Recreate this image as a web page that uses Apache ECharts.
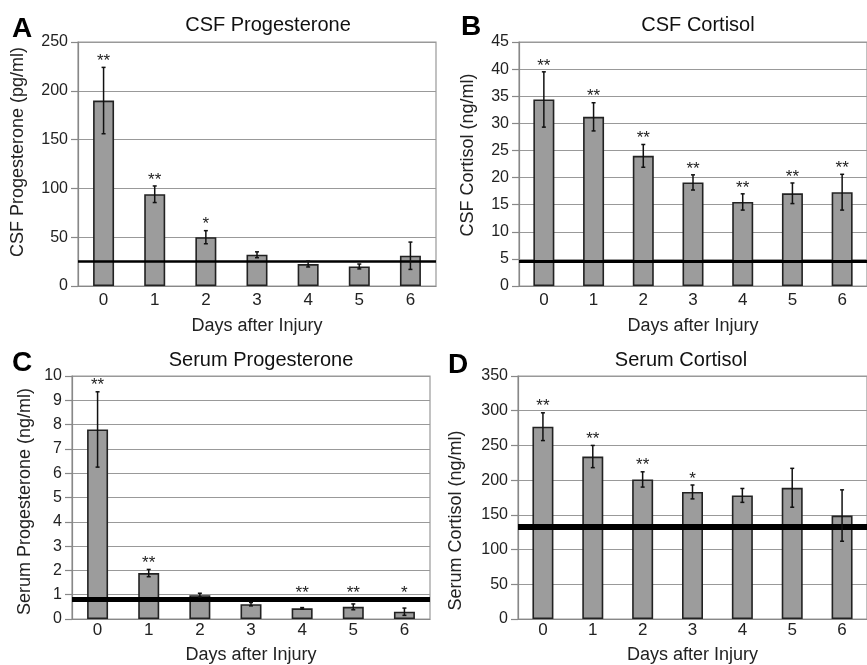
<!DOCTYPE html>
<html>
<head>
<meta charset="utf-8">
<script src="https://cdn.jsdelivr.net/npm/echarts@6/dist/echarts.min.js"></script>
<style>
  html, body { margin: 0; padding: 0; background: #fff; }
  #main { width: 867px; height: 665px; }
</style>
</head>
<body>
<div id="main"></div>
<script>
const days = ['0', '1', '2', '3', '4', '5', '6'];

// A: CSF progesterone (pg/ml)
const csfProg = [190, 94, 50, 32, 22.5, 20, 31];
const csfProgErr = [34, 8.5, 6.7, 3, 3, 2.5, 14];
const csfProgStars = ['**', '**', '*', '', '', '', ''];
const csfProgRef = 25;

// B: CSF cortisol (ng/ml)
const csfCort = [34.4, 31.2, 24.0, 19.1, 15.5, 17.1, 17.3];
const csfCortErr = [5.1, 2.6, 2.1, 1.4, 1.5, 1.9, 3.3];
const csfCortStars = ['**', '**', '**', '**', '**', '**', '**'];
const csfCortRef = 4.6;

// C: serum progesterone (ng/ml)
const serumProg = [7.8, 1.89, 0.98, 0.61, 0.44, 0.5, 0.3];
const serumProgErr = [1.55, 0.15, 0.08, 0.07, 0.03, 0.12, 0.15];
const serumProgStars = ['**', '**', '', '', '**', '**', '*'];
const serumProgRef = 0.8;

// D: serum cortisol (ng/ml)
const serumCort = [277, 234, 201, 183, 178, 189, 149];
const serumCortErr = [20, 16, 11, 10, 10, 28, 37];
const serumCortStars = ['**', '**', '**', '*', '', '', ''];
const serumCortRef = 133;

const FONT = 'Liberation Sans, Arial, sans-serif';
const TXT = '#222';

const panels = [
  { vals: csfProg, err: csfProgErr, stars: csfProgStars, ref: csfProgRef, refW: 2.5,
    max: 250, step: 50, yName: 'CSF Progesterone (pg/ml)', yGap: 51, yPad: [0, 0, 0, 24],
    grid: { left: 78, top: 42, width: 358, height: 244 }, xMargin: 6, xGap: 31 },
  { vals: csfCort, err: csfCortErr, stars: csfCortStars, ref: csfCortRef, refW: 3,
    max: 45, step: 5, yName: 'CSF Cortisol (ng/ml)', yGap: 42, yPad: [0, 0, 0, 18],
    grid: { left: 519, top: 42, width: 358, height: 244 }, xMargin: 6, xGap: 31 },
  { vals: serumProg, err: serumProgErr, stars: serumProgStars, ref: serumProgRef, refW: 5,
    max: 10, step: 1, yName: 'Serum Progesterone (ng/ml)', yGap: 38, yPad: [0, 8, 0, 0],
    grid: { left: 72, top: 376, width: 358, height: 246 }, xMargin: 3, xGap: 27 },
  { vals: serumCort, err: serumCortErr, stars: serumCortStars, ref: serumCortRef, refW: 6,
    max: 350, step: 50, yName: 'Serum Cortisol (ng/ml)', yGap: 53, yPad: [0, 46, 0, 0],
    grid: { left: 518, top: 376, width: 358, height: 246 }, xMargin: 3, xGap: 27 }
];

function errorRender(stars, refVal) {
  return function (params, api) {
    const i = api.value(0);
    const lo = api.coord([i, api.value(1)]);
    const hi = api.coord([i, api.value(2)]);
    const x = hi[0];
    const children = [
      { type: 'line', shape: { x1: x, y1: hi[1], x2: x, y2: lo[1] }, style: { stroke: '#111', lineWidth: 1.5 } },
      { type: 'line', shape: { x1: x - 2, y1: hi[1], x2: x + 2, y2: hi[1] }, style: { stroke: '#111', lineWidth: 1.5 } },
      { type: 'line', shape: { x1: x - 2, y1: lo[1], x2: x + 2, y2: lo[1] }, style: { stroke: '#111', lineWidth: 1.5 } }
    ];
    const s = stars[params.dataIndex];
    if (s) {
      const top = api.coord([i, Math.max(api.value(2), refVal)]);
      children.push({
        type: 'text',
        style: { text: s, x: x, y: top[1] - 6, align: 'center', verticalAlign: 'middle',
                 font: '17px ' + FONT, fill: TXT }
      });
    }
    return { type: 'group', children: children };
  };
}

const grids = [], xAxes = [], yAxes = [], series = [];
panels.forEach(function (p, k) {
  grids.push(Object.assign({ show: true, borderColor: '#999', borderWidth: 1.2, containLabel: false }, p.grid));
  xAxes.push({
    type: 'category', gridIndex: k, data: days,
    axisTick: { show: false },
    axisLine: { lineStyle: { color: '#888', width: 1.2 } },
    axisLabel: { color: TXT, fontSize: 17, fontFamily: FONT, margin: p.xMargin },
    name: 'Days after Injury', nameLocation: 'middle', nameGap: p.xGap,
    nameTextStyle: { color: TXT, fontSize: 18, fontFamily: FONT }
  });
  yAxes.push({
    type: 'value', gridIndex: k, min: 0, max: p.max, interval: p.step,
    axisLine: { show: true, lineStyle: { color: '#888', width: 1.2 } },
    axisTick: { show: true, length: 7, lineStyle: { color: '#888', width: 1.2 } },
    axisLabel: { color: TXT, fontSize: 16, fontFamily: FONT, margin: 10 },
    splitLine: { lineStyle: { color: '#999', width: 1.2 } },
    name: p.yName, nameLocation: 'middle', nameGap: p.yGap,
    nameTextStyle: { color: TXT, fontSize: 18, fontFamily: FONT, padding: p.yPad }
  });
  series.push({
    type: 'bar', xAxisIndex: k, yAxisIndex: k, data: p.vals, barWidth: 21,
    itemStyle: { color: '#9c9c9c', borderColor: '#222', borderWidth: 1.6 },
    silent: true,
    markLine: {
      silent: true, symbol: 'none', label: { show: false },
      lineStyle: { color: '#000', width: p.refW, type: 'solid' },
      data: [{ yAxis: p.ref }]
    }
  });
  series.push({
    type: 'custom', xAxisIndex: k, yAxisIndex: k, clip: false, z: 6,
    renderItem: errorRender(p.stars, p.ref),
    data: p.vals.map(function (v, i) { return [i, v - p.err[i], v + p.err[i]]; })
  });
});

function label(text, x, y, size, bold) {
  return {
    type: 'text', x: x, y: y,
    style: { text: text, align: 'center', verticalAlign: 'middle',
             font: (bold ? 'bold ' : '') + size + 'px ' + FONT, fill: bold ? '#000' : '#111' }
  };
}

const chart = echarts.init(document.getElementById('main'));
chart.setOption({
  animation: false,
  backgroundColor: '#fff',
  grid: grids,
  xAxis: xAxes,
  yAxis: yAxes,
  series: series,
  graphic: [
    label('A', 22, 29, 28, true),
    label('B', 471, 27, 28, true),
    label('C', 22, 363, 28, true),
    label('D', 458, 365, 28, true),
    label('CSF Progesterone', 268, 25, 20),
    label('CSF Cortisol', 698, 25, 20),
    label('Serum Progesterone', 261, 360, 20),
    label('Serum Cortisol', 681, 360, 20)
  ]
});
</script>
</body>
</html>
